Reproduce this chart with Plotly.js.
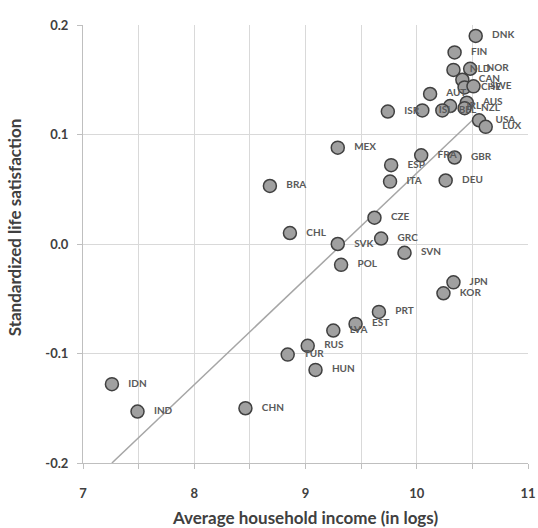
<!DOCTYPE html>
<html>
<head>
<meta charset="utf-8">
<script src="https://cdn.plot.ly/plotly-3.0.1.min.js"></script>
<style>html,body{margin:0;padding:0;background:#fff;}#chart{width:538px;height:528px;}</style>
</head>
<body>
<div id="chart"></div>
<script>
// Country codes
const countries = ["DNK","FIN","NLD","NOR","CAN","CHE","SWE","AUT","IRL","AUS","NZL","BEL","ISL","ISR","USA","LUX",
  "MEX","FRA","GBR","ESP","ITA","DEU","BRA","CZE","CHL","SVK","GRC","SVN","POL","JPN","KOR","PRT","EST","LVA","RUS","TUR","HUN","IDN","IND","CHN"];
// Average household income (in logs)
const income = [10.53,10.34,10.33,10.48,10.41,10.43,10.51,10.12,10.30,10.45,10.43,10.23,10.05,9.74,10.56,10.62,
  9.29,10.04,10.34,9.77,9.76,10.26,8.68,9.62,8.86,9.29,9.68,9.89,9.32,10.33,10.24,9.66,9.45,9.25,9.02,8.84,9.09,7.26,7.49,8.46];
// Standardized life satisfaction
const satisfaction = [0.190,0.175,0.159,0.160,0.150,0.143,0.144,0.137,0.126,0.129,0.124,0.122,0.122,0.121,0.113,0.107,
  0.088,0.081,0.079,0.072,0.057,0.058,0.053,0.024,0.010,0.000,0.005,-0.008,-0.019,-0.035,-0.045,-0.062,-0.073,-0.079,-0.093,-0.101,-0.115,-0.128,-0.153,-0.150];
// Linear trend line end points
const trendX = [7.26, 10.5];
const trendY = [-0.200, 0.113];
// Axis ticks
const xTicks = [7, 8, 9, 10, 11];
const yTicks = [-0.2, -0.1, 0.0, 0.1, 0.2];
// Titles
const xTitle = "Average household income (in logs)";
const yTitle = "Standardized life satisfaction";

const fontFam = "Lato, 'Open Sans', sans-serif";

const traces = [
  {
    x: trendX, y: trendY, type: "scatter", mode: "lines",
    line: {color: "#a6a6a6", width: 1.5}, hoverinfo: "skip", showlegend: false
  },
  {
    x: income, y: satisfaction, text: countries, type: "scatter", mode: "markers+text",
    texttemplate: "\u00a0\u00a0\u00a0%{text}",
    textposition: "middle right",
    textfont: {family: fontFam, size: 10, color: "#595959", weight: "bold"},
    marker: {size: 13, color: "#a0a0a0", line: {color: "#404040", width: 1.5}},
    showlegend: false, cliponaxis: false
  }
];

const layout = {
  width: 538, height: 528,
  margin: {l: 83, r: 10, t: 25, b: 65},
  paper_bgcolor: "#ffffff", plot_bgcolor: "#ffffff",
  font: {family: fontFam, color: "#404040"},
  xaxis: {
    range: [7, 11], tickvals: xTicks, ticktext: xTicks.map(String),
    showgrid: true, gridcolor: "#d9d9d9", gridwidth: 1,
    showline: true, linecolor: "#bfbfbf", linewidth: 1,
    ticks: "outside", ticklen: 5, tickcolor: "#bfbfbf",
    ticklabelstandoff: 13,
    minor: {dtick: 0.5, tick0: 7, showgrid: true, gridcolor: "#d9d9d9", ticks: "outside", ticklen: 5, tickcolor: "#bfbfbf"},
    zeroline: false,
    tickfont: {family: fontFam, size: 13, color: "#404040", weight: "bold"},
    title: {text: xTitle, font: {family: fontFam, size: 17, color: "#404040", weight: "bold"}, standoff: 12}
  },
  yaxis: {
    range: [-0.2, 0.2], tickvals: yTicks, ticktext: yTicks.map(v => v.toFixed(1)),
    showgrid: true, gridcolor: "#d9d9d9", gridwidth: 1,
    showline: true, linecolor: "#bfbfbf", linewidth: 1,
    ticks: "outside", ticklen: 5, tickcolor: "#bfbfbf",
    ticklabelstandoff: 6,
    zeroline: false,
    tickfont: {family: fontFam, size: 13, color: "#404040", weight: "bold"}
  },
  annotations: [
    {
      text: yTitle, textangle: -90, xref: "paper", yref: "paper",
      x: -0.152, y: 0.539, xanchor: "center", yanchor: "middle", showarrow: false,
      font: {family: fontFam, size: 17, color: "#404040", weight: "bold"}
    }
  ]
};

Plotly.newPlot("chart", traces, layout, {staticPlot: true, displayModeBar: false});
</script>
</body>
</html>
